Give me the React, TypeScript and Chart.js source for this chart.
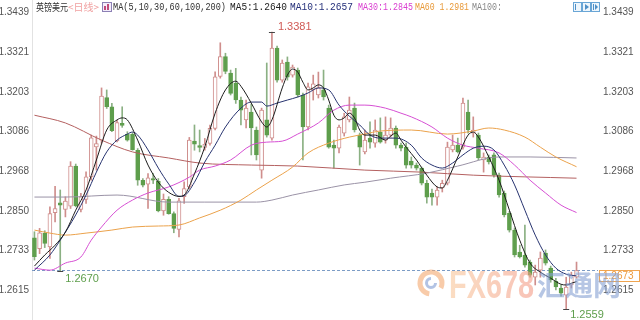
import React, { useEffect, useRef } from 'react';
import { Chart, registerables } from 'chart.js';

Chart.register(...registerables);

// ---- candle data (GBP/USD daily) ----
const OPEN = [
  1.2770, 1.2738, 1.2783, 1.2743, 1.2845, 1.2874, 1.2854, 1.2864, 1.2983, 1.2854,
  1.2884, 1.2951, 1.3040, 1.3060, 1.3186, 1.3159, 1.3058, 1.3110, 1.3077, 1.3077,
  1.3030, 1.2941, 1.2929, 1.2946, 1.2938, 1.2850, 1.2884, 1.2842, 1.2795, 1.2892,
  1.2921, 1.3057, 1.3044, 1.3038, 1.3050, 1.3095, 1.3249, 1.3308, 1.3259, 1.3229,
  1.3179, 1.3120, 1.3143, 1.3090, 1.2971, 1.3120, 1.3066, 1.3333, 1.3238, 1.3292,
  1.3253, 1.3268, 1.3194, 1.3099, 1.3209, 1.3194, 1.3209, 1.3155, 1.3045, 1.3036,
  1.3081, 1.3120, 1.3155, 1.3075, 1.3025, 1.3066, 1.3051, 1.3084, 1.3060, 1.3075,
  1.3096, 1.3045, 1.3039, 1.2998, 1.2986, 1.2977, 1.2932, 1.2903, 1.2891, 1.2918,
  1.2932, 1.3031, 1.3045, 1.3039, 1.3143, 1.3081, 1.3075, 1.3001, 1.3010, 1.3016,
  1.2956, 1.2903, 1.2843, 1.2793, 1.2728, 1.2719, 1.2698, 1.2653, 1.2674, 1.2725,
  1.2680, 1.2641, 1.2621, 1.2600, 1.2630, 1.2653,
];
const HIGH = [
  1.2788, 1.2798, 1.2791, 1.2862, 1.2923, 1.2912, 1.2892, 1.2996, 1.2989, 1.2902,
  1.2966, 1.3075, 1.3072, 1.3215, 1.3209, 1.3169, 1.3119, 1.3159, 1.3085, 1.3082,
  1.3035, 1.2946, 1.2961, 1.2961, 1.2946, 1.2900, 1.2892, 1.2847, 1.2887, 1.2936,
  1.3068, 1.3105, 1.3090, 1.3065, 1.3105, 1.3263, 1.3349, 1.3318, 1.3268, 1.3273,
  1.3188, 1.3179, 1.3167, 1.3099, 1.3155, 1.3289, 1.3381, 1.3339, 1.3298, 1.3307,
  1.3283, 1.3274, 1.3200, 1.3229, 1.3253, 1.3262, 1.3268, 1.3164, 1.3060, 1.3105,
  1.3140, 1.3188, 1.3170, 1.3081, 1.3090, 1.3114, 1.3120, 1.3126, 1.3129, 1.3126,
  1.3102, 1.3051, 1.3051, 1.3010, 1.2992, 1.2980, 1.2941, 1.2915, 1.2921, 1.2941,
  1.3054, 1.3075, 1.3066, 1.3185, 1.3179, 1.3129, 1.3081, 1.3022, 1.3016, 1.3022,
  1.2962, 1.2909, 1.2849, 1.2799, 1.2748, 1.2808, 1.2704, 1.2689, 1.2728, 1.2734,
  1.2686, 1.2650, 1.2630, 1.2653, 1.2668, 1.2698,
];
const LOW = [
  1.2704, 1.2723, 1.2741, 1.2709, 1.2817, 1.2670, 1.2832, 1.2857, 1.2862, 1.2847,
  1.2872, 1.2941, 1.2971, 1.3050, 1.3154, 1.3085, 1.3055, 1.3098, 1.3057, 1.3030,
  1.2926, 1.2921, 1.2857, 1.2931, 1.2847, 1.2837, 1.2840, 1.2785, 1.2773, 1.2872,
  1.2916, 1.3030, 1.3025, 1.3030, 1.3045, 1.3090, 1.3244, 1.3257, 1.3194, 1.3169,
  1.3105, 1.3096, 1.3016, 1.3001, 1.2947, 1.3069, 1.3060, 1.3232, 1.3232, 1.3238,
  1.3247, 1.3188, 1.3001, 1.3090, 1.3179, 1.3185, 1.3179, 1.3036, 1.2977, 1.3022,
  1.3072, 1.3114, 1.3084, 1.2986, 1.3019, 1.3036, 1.3039, 1.3051, 1.3051, 1.3069,
  1.3036, 1.3028, 1.2977, 1.2977, 1.2971, 1.2927, 1.2873, 1.2867, 1.2867, 1.2906,
  1.2927, 1.3025, 1.3022, 1.3033, 1.3081, 1.3069, 1.3001, 1.2965, 1.2989, 1.2950,
  1.2891, 1.2832, 1.2787, 1.2713, 1.2710, 1.2683, 1.2653, 1.2630, 1.2653, 1.2689,
  1.2638, 1.2615, 1.2597, 1.2559, 1.2621, 1.2650,
];
const CLOSE = [
  1.2714, 1.2785, 1.2753, 1.2842, 1.2857, 1.2867, 1.2879, 1.2983, 1.2865, 1.2892,
  1.2951, 1.3067, 1.3050, 1.3191, 1.3159, 1.3088, 1.3112, 1.3104, 1.3060, 1.3032,
  1.2941, 1.2926, 1.2948, 1.2941, 1.2850, 1.2884, 1.2842, 1.2798, 1.2880, 1.2916,
  1.3060, 1.3048, 1.3038, 1.3048, 1.3095, 1.3248, 1.3308, 1.3264, 1.3199, 1.3179,
  1.3149, 1.3155, 1.3096, 1.3016, 1.3149, 1.3075, 1.3333, 1.3238, 1.3289, 1.3247,
  1.3277, 1.3194, 1.3099, 1.3218, 1.3227, 1.3215, 1.3188, 1.3039, 1.3036, 1.3099,
  1.3129, 1.3149, 1.3090, 1.3039, 1.3060, 1.3054, 1.3090, 1.3054, 1.3075, 1.3096,
  1.3045, 1.3036, 1.2986, 1.2986, 1.2977, 1.2932, 1.2891, 1.2891, 1.2912, 1.2932,
  1.3039, 1.3045, 1.3025, 1.3170, 1.3090, 1.3090, 1.3007, 1.3010, 1.2995, 1.2956,
  1.2897, 1.2838, 1.2793, 1.2719, 1.2713, 1.2689, 1.2659, 1.2668, 1.2710, 1.2695,
  1.2645, 1.2624, 1.2606, 1.2624, 1.2659, 1.2673,
];

// ---- moving averages: [candle index, value] ----
const MA5 = [
  [0, 1.2686], [2, 1.2719], [4, 1.2748], [6, 1.2787], [8, 1.2852], [10, 1.2912], [12, 1.3001],
  [14, 1.3090], [16, 1.3120], [17, 1.3126], [18, 1.3120], [20, 1.3060], [22, 1.2986], [24, 1.2935],
  [26, 1.2905], [28, 1.2893], [29, 1.2897], [31, 1.2960], [33, 1.3040], [35, 1.3140], [37, 1.3209],
  [39, 1.3235], [40, 1.3220], [42, 1.3170], [44, 1.3114], [45, 1.3099], [46, 1.3120], [48, 1.3215],
  [49, 1.3253], [50, 1.3271], [51, 1.3262], [52, 1.3232], [53, 1.3209], [54, 1.3215], [55, 1.3224],
  [56, 1.3215], [57, 1.3179], [58, 1.3134], [59, 1.3120], [60, 1.3126], [61, 1.3140], [62, 1.3126],
  [63, 1.3090], [64, 1.3075], [66, 1.3075], [68, 1.3060], [69, 1.3072], [70, 1.3081], [71, 1.3060],
  [72, 1.3039], [74, 1.3001], [76, 1.2956], [78, 1.2921], [79, 1.2918], [80, 1.2941], [82, 1.3010],
  [84, 1.3075], [85, 1.3084], [86, 1.3069], [88, 1.3010], [90, 1.2941], [92, 1.2852], [94, 1.2763],
  [96, 1.2695], [98, 1.2668], [100, 1.2650], [102, 1.2632], [103, 1.2630], [104, 1.2635], [105, 1.2640],
];
const MA10 = [
  [0, 1.2674], [3, 1.2719], [5, 1.2763], [8, 1.2838], [10, 1.2897], [12, 1.2965], [14, 1.3025],
  [16, 1.3060], [18, 1.3078], [19, 1.3084], [20, 1.3075], [22, 1.3031], [24, 1.2977], [26, 1.2930],
  [28, 1.2893], [29, 1.2895], [31, 1.2935], [33, 1.2995], [35, 1.3045], [37, 1.3099], [40, 1.3155],
  [42, 1.3173], [44, 1.3173], [45, 1.3161], [47, 1.3170], [49, 1.3179], [51, 1.3188], [53, 1.3200],
  [55, 1.3215], [57, 1.3209], [59, 1.3164], [61, 1.3131], [63, 1.3105], [65, 1.3075], [67, 1.3066],
  [70, 1.3066], [73, 1.3045], [75, 1.3007], [77, 1.2986], [79, 1.2977], [81, 1.2992], [83, 1.3016],
  [85, 1.3036], [87, 1.3042], [89, 1.3031], [91, 1.2986], [93, 1.2927], [95, 1.2852], [97, 1.2778],
  [99, 1.2719], [101, 1.2680], [103, 1.2662], [105, 1.2657],
];
const MA30 = [
  [0, 1.2680], [3, 1.2674], [6, 1.2695], [9, 1.2713], [11, 1.2763], [13, 1.2802], [16, 1.2852],
  [19, 1.2882], [22, 1.2903], [26, 1.2921], [30, 1.2950], [32, 1.2971], [35, 1.2983], [38, 1.3001],
  [42, 1.3045], [45, 1.3054], [48, 1.3057], [51, 1.3078], [55, 1.3111], [58, 1.3149], [61, 1.3164],
  [64, 1.3164], [68, 1.3155], [71, 1.3140], [73, 1.3129], [77, 1.3099], [80, 1.3066], [83, 1.3045],
  [86, 1.3036], [90, 1.3022], [93, 1.2986], [96, 1.2941], [99, 1.2903], [102, 1.2867], [105, 1.2845],
];
const MA60 = [
  [0, 1.2793], [3, 1.2784], [6, 1.2778], [10, 1.2784], [15, 1.2793], [19, 1.2802], [24, 1.2805],
  [28, 1.2808], [32, 1.2829], [36, 1.2852], [40, 1.2882], [43, 1.2912], [46, 1.2941], [50, 1.2980],
  [53, 1.3022], [57, 1.3051], [61, 1.3069], [64, 1.3078], [67, 1.3087], [73, 1.3090], [80, 1.3078],
  [85, 1.3087], [88, 1.3096], [91, 1.3090], [95, 1.3069], [98, 1.3039], [101, 1.3010], [105, 1.2981],
];
const MA100 = [
  [0, 1.2891], [6, 1.2891], [16, 1.2897], [26, 1.2876], [33, 1.2876], [43, 1.2876], [46, 1.2882],
  [50, 1.2897], [55, 1.2912], [60, 1.2927], [64, 1.2935], [69, 1.2947], [76, 1.2962], [82, 1.2983],
  [90, 1.3010], [96, 1.3010], [105, 1.3007],
];
const MA200 = [
  [0, 1.3134], [6, 1.3111], [13, 1.3060], [19, 1.3025], [26, 1.3007], [32, 1.2992], [42, 1.2986],
  [51, 1.2983], [64, 1.2971], [75, 1.2965], [85, 1.2956], [105, 1.2947],
];

// ---- axis & texts ----
const Y_TICKS = [1.3439, 1.3321, 1.3203, 1.3086, 1.2968, 1.2850, 1.2733, 1.2615];
const Y_MIN = 1.2526;
const Y_MAX = 1.3476;
const TITLE = '英镑美元';
const PERIOD = '<日线>';
const LEGEND_TEXTS = ['MA(5,10,30,60,100,200)', 'MA5:1.2640', 'MA10:1.2657', 'MA30:1.2845', 'MA60 1.2981', 'MA100:'];
const LEGEND_COLORS = ['#333333', '#222222', '#25307a', '#d93fd0', '#e89a3a', '#888888'];
const LOW_LABEL = '1.2559';
const WM_LATIN = 'FX678';
const WM_CJK = '汇通网';

const UP_EDGE = '#cf8e8c';
const DOWN_FILL = '#5e9e4c';
const DOWN_WICK = '#8bb083';

const isUp = (i: number) => CLOSE[i] >= OPEN[i];

const overlay = {
  id: 'overlay',
  beforeDatasetsDraw(chart: any) {
    const { ctx, chartArea: a, scales } = chart;
    const py = Math.round(scales.y.getPixelForValue(CLOSE[CLOSE.length - 1])) + 0.5;
    ctx.save();
    ctx.strokeStyle = '#7c9cc6';
    ctx.lineWidth = 1;
    ctx.setLineDash([3, 2]);
    ctx.beginPath();
    ctx.moveTo(a.left, py);
    ctx.lineTo(a.right, py);
    ctx.stroke();
    ctx.restore();
  },
  afterDraw(chart: any) {
    const { ctx, chartArea: a, scales } = chart;
    const xs = scales.x;
    const ys = scales.y;
    ctx.save();
    ctx.textBaseline = 'middle';

    // markers: highest high, early low, overall low
    let hi = 0;
    for (let i = 1; i < HIGH.length; i++) if (HIGH[i] > HIGH[hi]) hi = i;
    let lo1 = 0;
    for (let i = 1; i < 50; i++) if (LOW[i] < LOW[lo1]) lo1 = i;
    let lo2 = 0;
    for (let i = 1; i < LOW.length; i++) if (LOW[i] < LOW[lo2]) lo2 = i;

    const mark = (i: number, v: number) => {
      const x = xs.getPixelForValue(i);
      const y = Math.round(ys.getPixelForValue(v)) + 0.5;
      ctx.strokeStyle = '#444';
      ctx.lineWidth = 1;
      ctx.beginPath();
      ctx.moveTo(x - 3, y);
      ctx.lineTo(x + 3, y);
      ctx.stroke();
      return { x, y };
    };
    ctx.font = '11px "Liberation Sans", Arial, sans-serif';
    const h = mark(hi, HIGH[hi]);
    ctx.fillStyle = '#d05a55';
    ctx.fillText(HIGH[hi].toFixed(4), h.x + 6, h.y - 6);
    const l1 = mark(lo1, LOW[lo1]);
    ctx.fillStyle = '#5e9e4c';
    ctx.fillText(LOW[lo1].toFixed(4), l1.x + 5, l1.y + 7);
    const l2 = mark(lo2, LOW[lo2]);
    ctx.fillText(LOW_LABEL, l2.x + 4, l2.y + 5);

    // last price box on the right axis
    const py = Math.round(ys.getPixelForValue(CLOSE[CLOSE.length - 1])) + 0.5;
    ctx.strokeStyle = '#f0a550';
    ctx.strokeRect(a.right + 1.5, py, 40, 11);
    ctx.fillStyle = '#ee9a3c';
    ctx.font = '10px "Liberation Sans", Arial, sans-serif';
    ctx.fillText(CLOSE[CLOSE.length - 1].toFixed(4), a.right + 5, py + 6);

    // header legend
    ctx.font = '10px "Noto Sans CJK SC"';
    ctx.fillStyle = '#333';
    ctx.fillText(TITLE, 36, 7, 32);
    ctx.fillStyle = '#f0a0a0';
    ctx.fillText(PERIOD, 68, 7, 31);
    ctx.fillStyle = '#f3ecfa';
    ctx.fillRect(102.5, 2.5, 9, 9);
    ctx.strokeStyle = '#8c80b5';
    ctx.strokeRect(102.5, 2.5, 9, 9);
    ctx.fillStyle = '#c04a7a';
    ctx.fillRect(104, 6, 2, 4);
    ctx.fillRect(107, 4, 2, 6);
    const lx = [113, 230, 290, 358, 415, 472];
    const lw = [113, 57, 63, 55, 54, 30];
    ctx.font = '10px "Liberation Mono", monospace';
    LEGEND_TEXTS.forEach((t, k) => {
      ctx.fillStyle = LEGEND_COLORS[k];
      ctx.fillText(t, lx[k], 7, lw[k]);
    });

    // top-right toolbar icons
    [573, 582, 591].forEach((x, k) => {
      ctx.fillStyle = '#eef6fc';
      ctx.fillRect(x + 0.5, 2.5, 8, 9);
      ctx.strokeStyle = '#6aa6d6';
      ctx.strokeRect(x + 0.5, 2.5, 8, 9);
      ctx.fillStyle = '#4f8fc6';
      if (k === 0) ctx.fillRect(x + 2, 4, 1, 6);
      if (k === 1) { ctx.beginPath(); ctx.moveTo(x + 3, 4); ctx.lineTo(x + 7, 7); ctx.lineTo(x + 3, 10); ctx.fill(); }
      if (k === 2) { ctx.fillRect(x + 2, 4, 1, 6); ctx.beginPath(); ctx.moveTo(x + 4, 4); ctx.lineTo(x + 7, 7); ctx.lineTo(x + 4, 10); ctx.fill(); }
    });

    // watermark
    ctx.globalAlpha = 0.6;
    ctx.lineWidth = 5;
    ctx.strokeStyle = '#f4a96f';
    ctx.beginPath();
    ctx.arc(431, 283, 11, Math.PI * 0.55, Math.PI * 2.15);
    ctx.stroke();
    ctx.lineWidth = 3;
    ctx.strokeStyle = '#7f9bd2';
    ctx.beginPath();
    ctx.arc(431, 283, 4.5, 0, Math.PI * 1.5);
    ctx.stroke();
    ctx.save();
    ctx.translate(449, 298);
    ctx.scale(0.76, 1);
    ctx.textBaseline = 'alphabetic';
    ctx.font = 'bold 38px "Liberation Sans", Arial, sans-serif';
    const grad = ctx.createLinearGradient(0, 0, 112, 0);
    grad.addColorStop(0, '#f8c79a');
    grad.addColorStop(1, '#f39a86');
    ctx.fillStyle = grad;
    ctx.fillText(WM_LATIN, 0, 0);
    ctx.restore();
    ctx.textBaseline = 'alphabetic';
    ctx.font = 'bold 28px "Noto Sans CJK SC"';
    ctx.fillStyle = '#86a0d2';
    ctx.fillText(WM_CJK, 537, 296);
    ctx.restore();
  },
};

const lineDs = (pts: number[][], color: string) => ({
  type: 'line' as const,
  data: pts.map(([i, v]) => ({ x: i, y: v })),
  borderColor: color,
  borderWidth: 1,
  pointRadius: 0,
  cubicInterpolationMode: 'monotone' as const,
  order: 0,
});

const axisFont = { family: '"Liberation Sans", Arial, sans-serif', size: 10 };

export default function App() {
  const ref = useRef<HTMLCanvasElement>(null);
  useEffect(() => {
    document.body.style.margin = '0';
    const canvas = ref.current;
    if (!canvas) return;
    const idx = OPEN.map((_, i) => i);
    const chart = new Chart(canvas, {
      type: 'bar',
      data: {
        datasets: [
          lineDs(MA5, '#1c1c1c'),
          lineDs(MA10, '#27336f'),
          lineDs(MA30, '#d64fd3'),
          lineDs(MA60, '#eba24b'),
          lineDs(MA100, '#9a92a6'),
          lineDs(MA200, '#b46060'),
          {
            type: 'bar',
            data: idx.map((i) => ({ x: i, y: [OPEN[i], CLOSE[i]] })),
            backgroundColor: idx.map((i) => (isUp(i) ? '#ffffff' : DOWN_FILL)),
            borderColor: idx.map((i) => (isUp(i) ? UP_EDGE : DOWN_FILL)),
            borderWidth: 1,
            borderSkipped: false,
            barThickness: 4,
            minBarLength: 1,
            grouped: false,
            order: 1,
          },
          {
            type: 'bar',
            data: idx.map((i) => ({ x: i, y: [LOW[i], HIGH[i]] })),
            backgroundColor: idx.map((i) => (isUp(i) ? UP_EDGE : DOWN_WICK)),
            borderWidth: 0,
            barThickness: 1,
            grouped: false,
            order: 2,
          },
        ] as any,
      },
      options: {
        responsive: false,
        animation: false,
        devicePixelRatio: 1,
        layout: { padding: 0 },
        plugins: { legend: { display: false }, tooltip: { enabled: false } },
        scales: {
          x: { type: 'linear', min: -0.47, max: 109.16, display: false, offset: false },
          y: {
            type: 'linear',
            position: 'left',
            min: Y_MIN,
            max: Y_MAX,
            grid: { display: false, drawTicks: false },
            border: { display: true, color: '#e2e2e2' },
            ticks: { color: '#555', font: axisFont, padding: 3, callback: (v: any) => Number(v).toFixed(4) },
            afterBuildTicks: (s: any) => { s.ticks = Y_TICKS.map((v) => ({ value: v })); },
            afterFit: (s: any) => { s.width = 32; s.paddingTop = 0; s.paddingBottom = 0; },
          },
          y2: {
            type: 'linear',
            position: 'right',
            min: Y_MIN,
            max: Y_MAX,
            grid: { display: false, drawTicks: false },
            border: { display: false },
            ticks: { color: '#555', font: axisFont, padding: 5, callback: (v: any) => Number(v).toFixed(4) },
            afterBuildTicks: (s: any) => { s.ticks = Y_TICKS.map((v) => ({ value: v })); },
            afterFit: (s: any) => { s.width = 42; s.paddingTop = 0; s.paddingBottom = 0; },
          },
        },
      } as any,
      plugins: [overlay],
    });
    return () => chart.destroy();
  }, []);
  return (
    <div style={{ width: 640, height: 320, background: '#fff' }}>
      <canvas ref={ref} width={640} height={320} style={{ display: 'block', width: 640, height: 320 }} />
    </div>
  );
}
